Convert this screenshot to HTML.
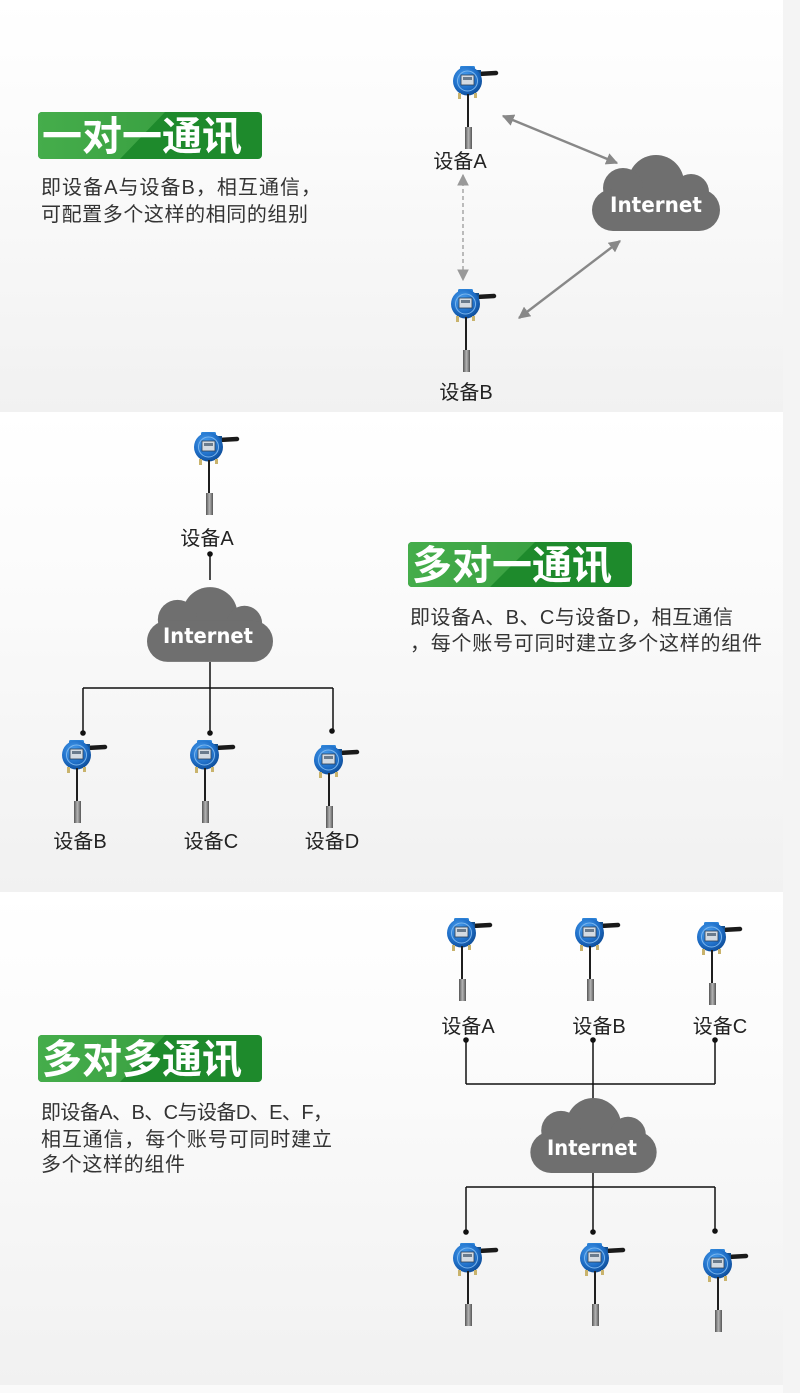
<!DOCTYPE html>
<html>
<head>
<meta charset="utf-8">
<style>
html,body{margin:0;padding:0;background:#fff;}
body{width:800px;height:1393px;overflow:hidden;position:relative;}
svg{display:block;position:absolute;left:0;top:0;}
.t{font-family:"Liberation Sans","Noto Sans CJK SC",sans-serif;}
</style>
</head>
<body>
<svg width="800" height="1393" viewBox="0 0 800 1393" xmlns="http://www.w3.org/2000/svg">
<defs>
  <linearGradient id="bg" x1="0" y1="0" x2="0" y2="1">
    <stop offset="0" stop-color="#ffffff"/>
    <stop offset="0.35" stop-color="#fbfbfb"/>
    <stop offset="1" stop-color="#f1f1f1"/>
  </linearGradient>
  <linearGradient id="probe" x1="0" y1="0" x2="1" y2="0">
    <stop offset="0" stop-color="#555"/>
    <stop offset="0.5" stop-color="#b5b5b5"/>
    <stop offset="1" stop-color="#555"/>
  </linearGradient>
  <radialGradient id="head" cx="0.4" cy="0.35" r="0.7">
    <stop offset="0" stop-color="#4aa0f0"/>
    <stop offset="0.6" stop-color="#1f6fc8"/>
    <stop offset="1" stop-color="#0d4a94"/>
  </radialGradient>
  <symbol id="dev" viewBox="0 0 46 84">
    <line x1="25" y1="8" x2="43" y2="7" stroke="#1a1a1a" stroke-width="4.5" stroke-linecap="round"/>
    <rect x="21" y="4" width="7" height="8" fill="#14508f"/>
    <rect x="7" y="0" width="15" height="5" rx="1.5" fill="#2d84d8"/>
    <circle cx="14.5" cy="15" r="14.5" fill="url(#head)"/>
    <circle cx="14.5" cy="15" r="10" fill="none" stroke="#7bb6ee" stroke-width="1"/>
    <rect x="8" y="9" width="13" height="10" fill="#d4dbe2" stroke="#2b3f55" stroke-width="0.8"/>
    <rect x="10" y="11" width="9" height="3" fill="#6a7b8c"/>
    <rect x="5" y="27" width="3" height="6" fill="#c9b36c"/>
    <rect x="21" y="27" width="3" height="5" fill="#c9b36c"/>
    <line x1="15" y1="28" x2="15" y2="63" stroke="#1e1e1e" stroke-width="2"/>
    <rect x="12" y="61" width="7" height="22" fill="url(#probe)"/>
  </symbol>
  <symbol id="cloud" viewBox="0 0 128 76">
    <g fill="#6f6f6f">
      <circle cx="64" cy="28" r="28"/>
      <circle cx="31" cy="33" r="20"/>
      <circle cx="99" cy="37" r="18"/>
      <rect x="0" y="34" width="128" height="42" rx="21"/>
    </g>
  </symbol>
  <linearGradient id="gb" x1="0" y1="0" x2="1" y2="0">
    <stop offset="0" stop-color="#45ad4b"/>
    <stop offset="1" stop-color="#3aa142"/>
  </linearGradient>
  <clipPath id="c1"><rect x="38" y="112" width="224" height="47" rx="4"/></clipPath>
  <clipPath id="c2"><rect x="408" y="542" width="224" height="45" rx="4"/></clipPath>
  <clipPath id="c3"><rect x="38" y="1035" width="224" height="47" rx="4"/></clipPath>
  <marker id="ah" viewBox="0 0 10 10" refX="9" refY="5" markerWidth="5" markerHeight="5" orient="auto-start-reverse">
    <path d="M0,0 L10,5 L0,10 z" fill="#888"/>
  </marker>
  <marker id="ahd" viewBox="0 0 10 10" refX="9" refY="5" markerWidth="9" markerHeight="9" orient="auto-start-reverse">
    <path d="M0,0 L10,5 L0,10 z" fill="#999"/>
  </marker>
</defs>

<!-- backgrounds -->
<rect x="0" y="0" width="800" height="412" fill="url(#bg)"/>
<rect x="0" y="412" width="800" height="480" fill="url(#bg)"/>
<rect x="0" y="892" width="800" height="493" fill="url(#bg)"/>
<rect x="0" y="1385" width="800" height="8" fill="#fafafa"/>
<rect x="783" y="0" width="17" height="1393" fill="#f4f4f4"/>

<!-- ===== Section 1 ===== -->
<g clip-path="url(#c1)">
  <rect x="38" y="112" width="224" height="47" fill="#1e8a2c"/>
  <polygon points="38,112 165,112 120,159 38,159" fill="url(#gb)"/>
</g>
<text x="42" y="150" class="t" font-size="40" font-weight="bold" fill="#fff">一对一通讯</text>
<text x="41" y="194" class="t" font-size="20" fill="#333" textLength="280" lengthAdjust="spacing">即设备A与设备B，相互通信，</text>
<text x="41" y="221" class="t" font-size="20" fill="#333" textLength="267" lengthAdjust="spacing">可配置多个这样的相同的组别</text>

<use href="#dev" x="453" y="66" width="46" height="84"/>
<text x="460" y="168" class="t" font-size="20" fill="#222" text-anchor="middle">设备A</text>
<use href="#dev" x="451" y="289" width="46" height="84"/>
<text x="466" y="399" class="t" font-size="20" fill="#222" text-anchor="middle">设备B</text>

<line x1="463" y1="175" x2="463" y2="280" stroke="#9a9a9a" stroke-width="1.3" stroke-dasharray="4,3" marker-start="url(#ahd)" marker-end="url(#ahd)"/>
<line x1="503" y1="116" x2="617" y2="163" stroke="#888" stroke-width="2.4" marker-start="url(#ah)" marker-end="url(#ah)"/>
<line x1="519" y1="318" x2="620" y2="241" stroke="#888" stroke-width="2.4" marker-start="url(#ah)" marker-end="url(#ah)"/>

<use href="#cloud" x="592" y="155" width="128" height="76"/>
<text x="656" y="212" font-family="'DejaVu Sans','Liberation Sans',sans-serif" font-size="21" font-weight="bold" fill="#fff" text-anchor="middle" textLength="92" lengthAdjust="spacingAndGlyphs">Internet</text>

<!-- ===== Section 2 ===== -->
<use href="#dev" x="194" y="432" width="46" height="84"/>
<text x="207" y="545" class="t" font-size="20" fill="#222" text-anchor="middle">设备A</text>
<circle cx="210" cy="554" r="2.8" fill="#111"/>
<line x1="210" y1="554" x2="210" y2="580" stroke="#111" stroke-width="1.5"/>
<use href="#cloud" x="147" y="587" width="126" height="75"/>
<text x="208" y="643" font-family="'DejaVu Sans','Liberation Sans',sans-serif" font-size="21" font-weight="bold" fill="#fff" text-anchor="middle" textLength="90" lengthAdjust="spacingAndGlyphs">Internet</text>
<g stroke="#111" stroke-width="1.5" fill="none">
  <line x1="210" y1="662" x2="210" y2="733"/>
  <line x1="83" y1="688" x2="333" y2="688"/>
  <line x1="83" y1="688" x2="83" y2="733"/>
  <line x1="333" y1="688" x2="333" y2="731"/>
</g>
<circle cx="83" cy="733" r="2.8" fill="#111"/>
<circle cx="210" cy="733" r="2.8" fill="#111"/>
<circle cx="332" cy="731" r="2.8" fill="#111"/>

<use href="#dev" x="62" y="740" width="46" height="84"/>
<use href="#dev" x="190" y="740" width="46" height="84"/>
<use href="#dev" x="314" y="745" width="46" height="84"/>
<text x="80" y="848" class="t" font-size="20" fill="#222" text-anchor="middle">设备B</text>
<text x="211" y="848" class="t" font-size="20" fill="#222" text-anchor="middle">设备C</text>
<text x="332" y="848" class="t" font-size="20" fill="#222" text-anchor="middle">设备D</text>

<g clip-path="url(#c2)">
  <rect x="408" y="542" width="224" height="45" fill="#1e8a2c"/>
  <polygon points="408,542 535,542 490,587 408,587" fill="url(#gb)"/>
</g>
<text x="412" y="579" class="t" font-size="40" font-weight="bold" fill="#fff">多对一通讯</text>
<text x="410" y="624" class="t" font-size="20" fill="#333" textLength="323" lengthAdjust="spacing">即设备A、B、C与设备D，相互通信</text>
<text x="410" y="650" class="t" font-size="20" fill="#333" textLength="352" lengthAdjust="spacing">，每个账号可同时建立多个这样的组件</text>

<!-- ===== Section 3 ===== -->
<g clip-path="url(#c3)">
  <rect x="38" y="1035" width="224" height="47" fill="#1e8a2c"/>
  <polygon points="38,1035 165,1035 120,1082 38,1082" fill="url(#gb)"/>
</g>
<text x="42" y="1073" class="t" font-size="40" font-weight="bold" fill="#fff">多对多通讯</text>
<text x="41" y="1119" class="t" font-size="20" fill="#333" textLength="292" lengthAdjust="spacing">即设备A、B、C与设备D、E、F，</text>
<text x="41" y="1146" class="t" font-size="20" fill="#333" textLength="291" lengthAdjust="spacing">相互通信，每个账号可同时建立</text>
<text x="41" y="1171" class="t" font-size="20" fill="#333" textLength="144" lengthAdjust="spacing">多个这样的组件</text>

<use href="#dev" x="447" y="918" width="46" height="84"/>
<use href="#dev" x="575" y="918" width="46" height="84"/>
<use href="#dev" x="697" y="922" width="46" height="84"/>
<text x="468" y="1033" class="t" font-size="20" fill="#222" text-anchor="middle">设备A</text>
<text x="599" y="1033" class="t" font-size="20" fill="#222" text-anchor="middle">设备B</text>
<text x="720" y="1033" class="t" font-size="20" fill="#222" text-anchor="middle">设备C</text>

<g stroke="#111" stroke-width="1.5" fill="none">
  <line x1="466" y1="1040" x2="466" y2="1084"/>
  <line x1="593" y1="1040" x2="593" y2="1100"/>
  <line x1="715" y1="1040" x2="715" y2="1084"/>
  <line x1="466" y1="1084" x2="715" y2="1084"/>
  <line x1="593" y1="1172" x2="593" y2="1232"/>
  <line x1="466" y1="1187" x2="715" y2="1187"/>
  <line x1="466" y1="1187" x2="466" y2="1232"/>
  <line x1="715" y1="1187" x2="715" y2="1231"/>
</g>
<circle cx="466" cy="1040" r="2.8" fill="#111"/>
<circle cx="593" cy="1040" r="2.8" fill="#111"/>
<circle cx="715" cy="1040" r="2.8" fill="#111"/>
<circle cx="466" cy="1232" r="2.8" fill="#111"/>
<circle cx="593" cy="1232" r="2.8" fill="#111"/>
<circle cx="715" cy="1231" r="2.8" fill="#111"/>

<use href="#cloud" x="530" y="1098" width="127" height="75"/>
<text x="592" y="1155" font-family="'DejaVu Sans','Liberation Sans',sans-serif" font-size="21" font-weight="bold" fill="#fff" text-anchor="middle" textLength="90" lengthAdjust="spacingAndGlyphs">Internet</text>

<use href="#dev" x="453" y="1243" width="46" height="84"/>
<use href="#dev" x="580" y="1243" width="46" height="84"/>
<use href="#dev" x="703" y="1249" width="46" height="84"/>
</svg>
</body>
</html>
